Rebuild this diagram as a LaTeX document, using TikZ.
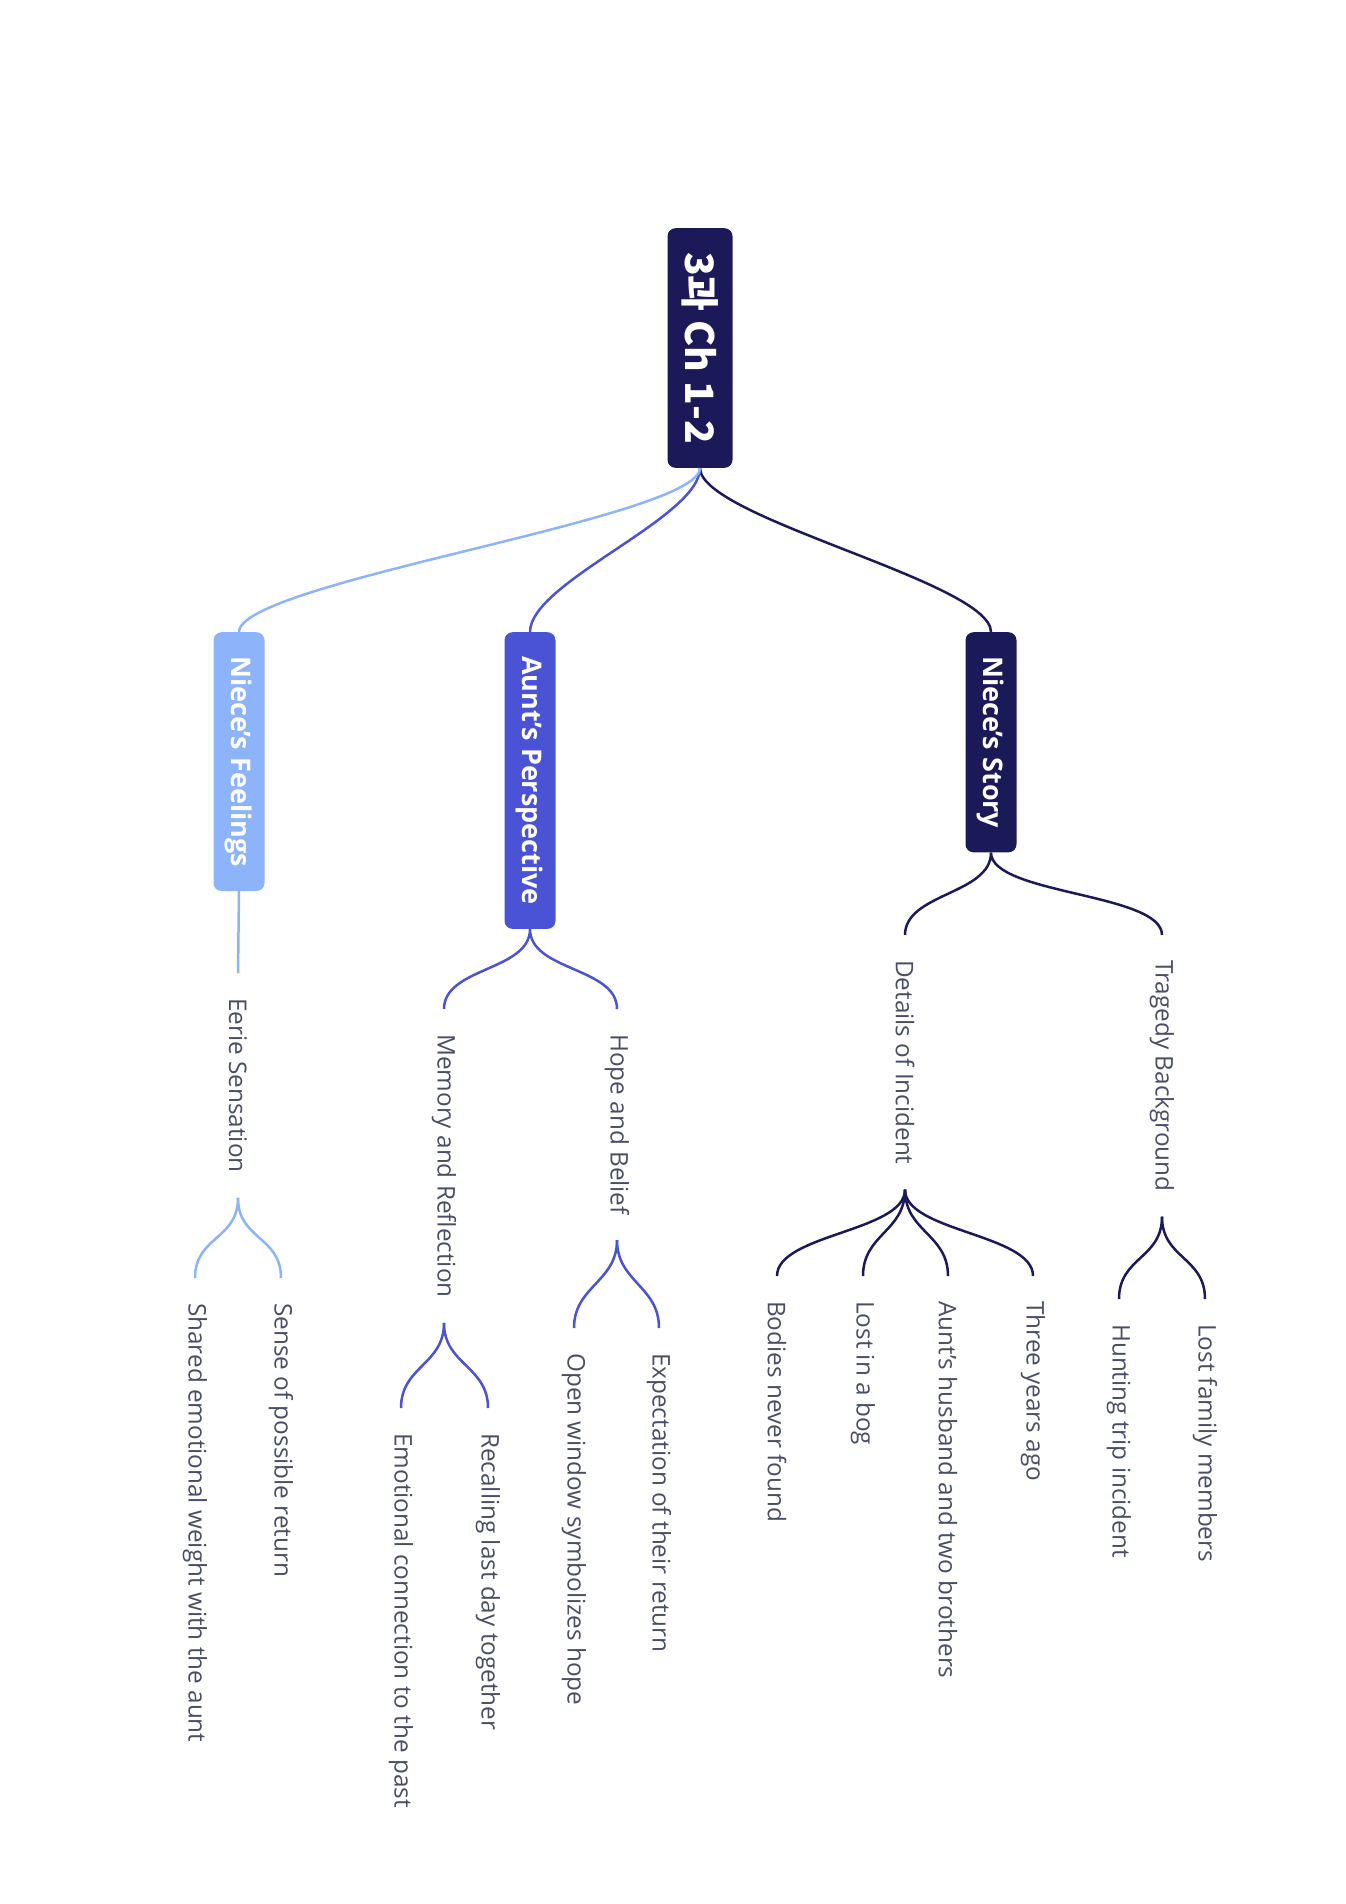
\documentclass[tikz,border=0pt]{standalone}
\usepackage{fontspec}
\setmainfont{Open Sans}
\newfontfamily\krfont{Noto Sans CJK KR}
\definecolor{navy}{RGB}{27,25,88}
\definecolor{royal}{RGB}{74,82,214}
\definecolor{sky}{RGB}{141,180,250}
\definecolor{leaftext}{RGB}{72,78,100}
\tikzset{
  box/.style={rotate=-90, anchor=west, rounded corners=8pt, text=white,
    font=\fontsize{27}{31}\selectfont\bfseries, inner xsep=24pt, minimum height=51pt},
  rootbox/.style={box, fill=navy, minimum height=65pt,
    font=\krfont\fontsize{39}{43}\selectfont\bfseries},
  topic/.style={rotate=-90, anchor=west, inner xsep=25pt, inner ysep=0pt,
    text=leaftext, font=\fontsize{24.3}{28}\selectfont},
  link/.style={line width=2.5pt, to path={.. controls +(0,#1) and +(0,-#1) .. (\tikztotarget)}},
  link/.default=42
}
\begin{document}
\begin{tikzpicture}[x=1pt,y=-1pt]
  \useasboundingbox (0,0) rectangle (1346,1904);

  % root and main branches
  \node[rootbox] (root) at (700,228) {3과 Ch 1-2};
  \node[box, fill=navy] (story) at (991,632) {Niece's Story};
  \node[box, fill=royal] (aunt) at (530,632) {Aunt's Perspective};
  \node[box, fill=sky] (feel) at (239,632) {Niece's Feelings};

  % second level
  \node[topic] (tragedy) at (1162,935) {Tragedy Background};
  \node[topic] (details) at (905,935) {Details of Incident};
  \node[topic] (hope) at (617,1009) {Hope and Belief};
  \node[topic] (memory) at (444,1009) {Memory and Reflection};
  \node[topic] (eerie) at (238,973) {Eerie Sensation};

  % leaves
  \node[topic] (lostfam) at (1205,1299) {Lost family members};
  \node[topic] (hunting) at (1119,1299) {Hunting trip incident};
  \node[topic] (threeyrs) at (1033,1276) {Three years ago};
  \node[topic] (husband) at (948,1276) {Aunt's husband and two brothers};
  \node[topic] (bog) at (863,1276) {Lost in a bog};
  \node[topic] (bodies) at (777,1276) {Bodies never found};
  \node[topic] (expect) at (659,1328) {Expectation of their return};
  \node[topic] (window) at (574,1328) {Open window symbolizes hope};
  \node[topic] (recall) at (488,1408) {Recalling last day together};
  \node[topic] (emotion) at (401,1408) {Emotional connection to the past};
  \node[topic] (sense) at (281,1278) {Sense of possible return};
  \node[topic] (shared) at (195,1278) {Shared emotional weight with the aunt};

  \draw[navy, link=50] (root.east) to (story.west);
  \draw[royal, link=50] (root.east) to (aunt.west);
  \draw[sky, link=50] (root.east) to (feel.west);

  \draw[navy, link] (story.east) to (tragedy.west) (story.east) to (details.west);
  \draw[royal, link] (aunt.east) to (hope.west) (aunt.east) to (memory.west);
  \draw[sky, line width=2.5pt] (feel.east) -- (eerie.west);

  \foreach \c in {lostfam,hunting}
    \draw[navy, link] (tragedy.east) to (\c.west);
  \foreach \c in {threeyrs,husband,bog,bodies}
    \draw[navy, link] (details.east) to (\c.west);
  \foreach \c in {expect,window}
    \draw[royal, link] (hope.east) to (\c.west);
  \foreach \c in {recall,emotion}
    \draw[royal, link] (memory.east) to (\c.west);
  \foreach \c in {sense,shared}
    \draw[sky, link] (eerie.east) to (\c.west);
\end{tikzpicture}
\end{document}
